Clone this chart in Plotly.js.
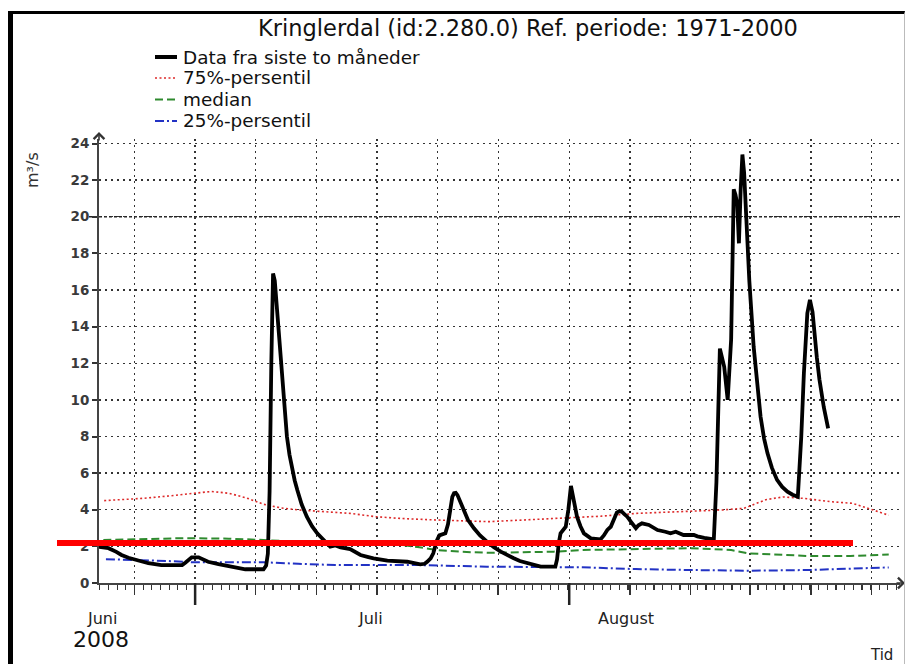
<!DOCTYPE html>
<html>
<head>
<meta charset="utf-8">
<script src="https://cdn.plot.ly/plotly-3.0.1.min.js"></script>
<style>
  html, body { margin: 0; padding: 0; background: #fff; overflow: hidden; }
  #chart { width: 909px; height: 664px; }
  #frame { position: absolute; left: 8px; top: 11px; width: 897px; height: 670px;
           border-left: 5px solid #000; border-top: 3px solid #000; border-right: 1px solid #bbb;
           pointer-events: none; box-sizing: border-box; }
</style>
</head>
<body>
<div id="chart"></div>
<div id="frame"></div>
<script>
// ---- data (x = days since 1 June 2008, y = m3/s) ----
const flowDays = [0, 1.1, 2.0, 2.6, 3.4, 4.2, 5.0, 5.7, 7.2, 9.6, 10.0, 10.4, 10.7, 11.5, 12.0, 12.6, 13.8, 15.0, 16.0, 16.9, 19.0, 19.3, 19.5, 19.7, 19.9, 20.1, 20.3,
  20.6, 20.9, 21.3, 21.7, 22.0, 22.3, 22.6, 22.9, 23.4, 24.0, 24.6, 25.2, 26.0, 26.7, 27.3, 27.9, 29.0, 29.6, 30.2, 31.0, 31.7, 33.3, 35.6, 37.1, 37.6, 37.9, 38.3, 38.6, 39.0, 39.3, 40.0, 40.3, 40.6, 40.8, 41.0, 41.2, 41.4, 41.7,
  42.1, 42.6, 43.3, 44.0, 44.8, 45.6, 46.4, 47.1, 47.9, 48.6, 49.4, 50.2, 51.0, 52.7, 52.9, 53.1, 53.3, 53.9, 54.2, 54.5, 54.8, 55.2, 55.6, 56.0, 56.8, 57.9, 58.3, 58.7, 59.1, 59.5, 59.8, 60.1, 60.4,
  60.7, 61.0, 61.5, 62.0, 62.3, 62.7, 63.5, 64.5, 65.4, 66.0, 66.6, 67.5, 68.7, 69.1, 69.9, 71.0, 71.3, 71.5, 71.7, 71.9, 72.2, 72.6, 73.0, 73.3, 73.5, 73.7,
  73.9, 74.1, 74.3, 74.5, 74.8, 75.1, 75.6, 76.0, 76.4, 76.8, 77.2, 77.7, 78.3, 78.9, 79.5, 80.1, 80.7, 81.1, 81.4, 81.8, 82.1, 82.4, 82.6, 82.9, 83.2, 83.7, 84.2];
const flowValues = [1.98, 1.9, 1.7, 1.53, 1.38, 1.26, 1.15, 1.08, 0.98, 0.98, 1.12, 1.32, 1.40, 1.40, 1.28, 1.16, 1.03, 0.93, 0.83, 0.75, 0.75, 0.95, 1.6, 5.0, 12.0, 16.9, 16.5,
  14.6, 12.7, 10.1, 8.0, 7.0, 6.2, 5.6, 5.08, 4.3, 3.62, 3.1, 2.71, 2.3, 1.98, 2.05, 1.95, 1.85, 1.7, 1.53, 1.43, 1.35, 1.22, 1.16, 1.02, 1.05, 1.16, 1.35, 1.62, 2.3, 2.6, 2.71, 3.2, 4.17, 4.7, 4.9, 4.92, 4.8, 4.45,
  3.99, 3.45, 2.99, 2.6, 2.26, 1.95, 1.71, 1.52, 1.35, 1.2, 1.08, 0.97, 0.89, 0.89, 1.3, 2.2, 2.71, 3.07, 4.0, 5.3, 4.6, 3.62, 3.1, 2.71, 2.44, 2.38, 2.6, 2.9, 3.07, 3.5, 3.85, 3.93, 3.88,
  3.75, 3.62, 3.3, 2.99, 3.15, 3.26, 3.17, 2.89, 2.8, 2.71, 2.8, 2.62, 2.62, 2.55, 2.47, 2.38, 5.5, 10.0, 12.8, 12.4, 11.8, 10.0, 13.3, 21.5, 21.2, 20.7,
  18.55, 21.5, 23.4, 22.4, 19.5, 16.5, 12.9, 10.8, 9.08, 7.9, 7.08, 6.3, 5.63, 5.25, 4.99, 4.82, 4.71, 8.0, 11.45, 14.73, 15.46, 14.8, 13.6, 12.3, 11.1, 9.6, 8.45];

const p75Days = [0.6, 3, 5, 8, 11, 13, 15, 17, 19, 21, 23, 26, 29, 32, 35, 39, 42, 45, 49, 52, 55, 58, 62, 65, 68, 72, 74.5, 75.6, 77, 79, 81.4, 84.5, 87, 89, 91.2];
const p75Values = [4.5, 4.55, 4.62, 4.75, 4.88, 5.0, 4.9, 4.65, 4.3, 4.1, 3.99, 3.88, 3.8, 3.62, 3.52, 3.44, 3.38, 3.35, 3.44, 3.5, 3.55, 3.65, 3.8, 3.85, 3.89, 3.99, 4.08, 4.3, 4.55, 4.7, 4.62, 4.44, 4.35, 4.05, 3.7];

const medDays = [0.5, 5, 10, 15, 19, 25, 30, 35, 37, 39, 42, 45, 49, 52.5, 55.6, 62, 68.3, 71, 73, 75, 79, 82.2, 86.8, 91.2];
const medValues = [2.35, 2.4, 2.45, 2.42, 2.35, 2.2, 2.15, 2.08, 1.95, 1.8, 1.7, 1.65, 1.68, 1.71, 1.8, 1.84, 1.9, 1.85, 1.8, 1.62, 1.55, 1.47, 1.48, 1.55];

const p25Days = [0.8, 5, 8, 11, 19, 23, 27.3, 37, 44.8, 55.6, 62, 68, 75, 82, 87, 91.2];
const p25Values = [1.3, 1.26, 1.2, 1.13, 1.13, 1.05, 0.98, 0.98, 0.89, 0.86, 0.76, 0.71, 0.67, 0.71, 0.8, 0.85];

const seriesNames = ['Data fra siste to m\u00e5neder', '75%-persentil', 'median', '25%-persentil'];
const gridDays = [4.1, 11.1, 18.1, 25.1, 32.1, 39.1, 46.1, 54.3, 61.3, 68.3, 75.2, 82.2, 89.2];
const longTickDays = [11.1, 54.3];
const monthLabels = ['Juni', 'Juli', 'August'];
const monthDays = [0.3, 31.4, 60.9];
const yTicks = [0, 2, 4, 6, 8, 10, 12, 14, 16, 18, 20, 22, 24];
const markLevel = 2.18;

// ---- layout helpers (pixel -> paper) ----
const PL = 99, PW = 801, PT = 139, PH = 444;
const px = x => (x - PL) / PW;
const py = y => (PT + PH - y) / PH;
const FONT = 'DejaVu Sans, Arial, sans-serif';

const styles = [
  {color: '#000000', width: 3.8, dash: 'solid'},
  {color: '#dd2a2a', width: 1.6, dash: '2px,2.5px'},
  {color: '#2e8a2e', width: 2, dash: '8px,4px'},
  {color: '#2232c4', width: 2, dash: '9px,3px,2px,3px'}
];

const xs = [flowDays, p75Days, medDays, p25Days];
const ys = [flowValues, p75Values, medValues, p25Values];
const order = [3, 2, 1, 0];
const traces = order.map(i => ({
  type: 'scatter', mode: 'lines', name: seriesNames[i],
  x: xs[i], y: ys[i], line: Object.assign({}, styles[i], {shape: 'linear'}), hoverinfo: 'skip', showlegend: false
}));

const shapes = [];
const annotations = [];

// red marker line
shapes.push({type: 'line', xref: 'paper', yref: 'y', x0: px(57), x1: px(853), y0: markLevel, y1: markLevel,
  line: {color: '#ff0000', width: 6}, layer: 'above'});
// long ticks
longTickDays.forEach(d => shapes.push({type: 'line', xref: 'x', yref: 'paper', x0: d, x1: d, y0: 0, y1: -22 / PH,
  line: {color: '#222', width: 2.5}}));
// y=20 emphasis
shapes.push({type: 'line', xref: 'paper', yref: 'y', x0: px(89), x1: 1, y0: 20, y1: 20,
  line: {color: '#222', width: 1.6, dash: '3px,2px'}, layer: 'below'});

// legend (drawn manually for tight spacing)
const legendRows = [57, 78, 99.5, 121];
seriesNames.forEach((n, i) => {
  shapes.push({type: 'line', xref: 'paper', yref: 'paper', x0: px(155), x1: px(177), y0: py(legendRows[i]), y1: py(legendRows[i]),
    line: {color: styles[i].color, width: i === 0 ? 4 : styles[i].width, dash: i === 0 ? 'solid' : styles[i].dash}});
  annotations.push({xref: 'paper', yref: 'paper', x: px(182), y: py(legendRows[i]), xanchor: 'left', yanchor: 'middle',
    text: n, showarrow: false, borderpad: 0, font: {family: FONT, size: 18.4, color: '#111'}});
});

// month labels
monthLabels.forEach((m, i) => annotations.push({xref: 'x', yref: 'paper', x: monthDays[i], y: py(618), xanchor: 'center', yanchor: 'middle',
  text: m, showarrow: false, font: {family: FONT, size: 16, color: '#222'}}));
annotations.push({xref: 'paper', yref: 'paper', x: px(101), y: py(639), xanchor: 'center', yanchor: 'middle',
  text: '2008', showarrow: false, font: {family: FONT, size: 22, color: '#111'}});
annotations.push({xref: 'paper', yref: 'paper', x: px(881), y: py(655), xanchor: 'center', yanchor: 'middle',
  text: 'Tid', showarrow: false, font: {family: FONT, size: 15, color: '#222'}});
annotations.push({xref: 'paper', yref: 'paper', x: px(33), y: py(170), xanchor: 'center', yanchor: 'middle', textangle: -90,
  text: 'm\u00b3/s', showarrow: false, font: {family: FONT, size: 16, color: '#333'}});
// axis arrows
annotations.push({xref: 'paper', yref: 'paper', x: 0, y: py(132), ax: 0, ay: 10, text: '', showarrow: true,
  arrowhead: 4, arrowsize: 1.3, arrowwidth: 1.6, arrowcolor: '#333'});
annotations.push({xref: 'paper', yref: 'paper', x: px(905), y: 0, ax: -10, ay: 0, text: '', showarrow: true,
  arrowhead: 4, arrowsize: 1.3, arrowwidth: 1.6, arrowcolor: '#333'});

const layout = {
  width: 909, height: 664,
  margin: {l: PL, r: 909 - PL - PW, t: PT, b: 664 - PT - PH},
  paper_bgcolor: '#ffffff', plot_bgcolor: '#ffffff',
  hovermode: false,
  title: {text: 'Kringlerdal (id:2.280.0) Ref. periode: 1971-2000', x: 528 / 909, xanchor: 'center',
    y: 1 - 28 / 664, yanchor: 'middle', font: {family: FONT, size: 22.5, color: '#111'}},
  xaxis: {range: [0, 92.5], tickmode: 'array', tickvals: gridDays, showticklabels: false,
    ticks: 'outside', ticklen: 10, tickwidth: 1.5, tickcolor: '#333',
    showgrid: true, gridcolor: '#333', gridwidth: 1.4, griddash: '2px,4px',
    showline: true, linecolor: '#444', linewidth: 2, zeroline: false, fixedrange: true,
    minor: {tickmode: 'linear', tick0: 0.1, dtick: 1, ticks: 'outside', ticklen: 5, tickwidth: 1.2, tickcolor: '#333', showgrid: false}},
  yaxis: {range: [0, 444 / 18.3125], tickmode: 'array', tickvals: yTicks, ticktext: yTicks.map(String),
    ticks: 'outside', ticklen: 5, tickwidth: 2, tickcolor: '#333',
    tickfont: {family: FONT, size: 13.5, color: '#3a3a3a', weight: 'bold'},
    showgrid: true, gridcolor: '#333', gridwidth: 1.4, griddash: '2px,4px',
    showline: true, linecolor: '#444', linewidth: 2, zeroline: false, fixedrange: true},
  shapes: shapes,
  annotations: annotations,
  showlegend: false
};

Plotly.newPlot('chart', traces, layout, {staticPlot: true, displayModeBar: false});
</script>
</body>
</html>
